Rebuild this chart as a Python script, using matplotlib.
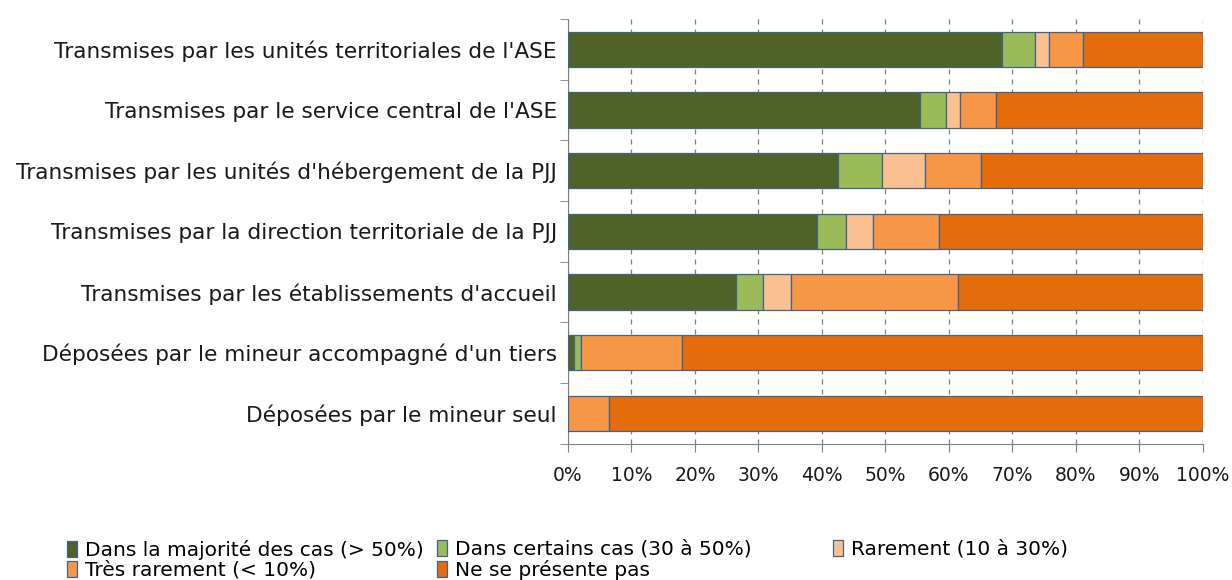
import numpy as np
import matplotlib.pyplot as plt
from matplotlib.patches import Patch

plt.rcParams['font.family'] = ['DejaVu Sans']

categories = [
    "Transmises par les unités territoriales de l'ASE",
    "Transmises par le service central de l'ASE",
    "Transmises par les unités d'hébergement de la PJJ",
    "Transmises par la direction territoriale de la PJJ",
    "Transmises par les établissements d'accueil",
    "Déposées par le mineur accompagné d'un tiers",
    "Déposées par le mineur seul",
]
series_names = [
    "Dans la majorité des cas (> 50%)",
    "Dans certains cas (30 à 50%)",
    "Rarement (10 à 30%)",
    "Très rarement (< 10%)",
    "Ne se présente pas",
]
majorite = [68.4, 55.4, 42.6, 39.2, 26.4, 1.0, 0.0]
certains = [5.2, 4.1, 6.9, 4.6, 4.3, 1.1, 0.0]
rarement = [2.1, 2.3, 6.8, 4.3, 4.4, 0.0, 0.0]
tres_rarement = [5.4, 5.6, 8.7, 10.3, 26.4, 15.9, 6.5]
ne_presente_pas = [18.9, 32.6, 35.0, 41.6, 38.5, 82.0, 93.5]
xticks = [0, 10, 20, 30, 40, 50, 60, 70, 80, 90, 100]

colors = ['#4F6228', '#9BBB59', '#FAC090', '#F79646', '#E46C0A']
series = [majorite, certains, rarement, tres_rarement, ne_presente_pas]

fig = plt.figure(figsize=(12.32, 5.8), dpi=100)
ax = fig.add_axes([0.4610, 0.2353, 0.5154, 0.7319])

y = np.arange(len(categories))
left = np.zeros(len(categories))
for vals, col in zip(series, colors):
    vals = np.array(vals)
    ax.barh(y, vals, left=left, height=0.58, color=col,
            edgecolor='#41628A', linewidth=0.9, zorder=3)
    left += vals

ax.set_xlim(0, 100)
ax.set_ylim(6.5, -0.5)
ax.set_xticks(xticks)
ax.set_xticklabels([str(t) + '%' for t in xticks], fontsize=13.5, color='#1a1a1a')
ax.set_yticks(y)
ax.set_yticklabels(categories, fontsize=15.6, color='#1a1a1a')
ax.set_yticks(np.arange(-0.5, 7, 1), minor=True)
ax.tick_params(axis='y', which='major', length=0, pad=8)
ax.tick_params(axis='y', which='minor', length=6, color='#808080')
ax.tick_params(axis='x', length=6, color='#808080', pad=10)
ax.grid(axis='x', color='#808080', linestyle=(0, (4, 4)), linewidth=0.9, zorder=0)
for s in ['top', 'right']:
    ax.spines[s].set_visible(False)
ax.spines['left'].set_color('#808080')
ax.spines['bottom'].set_color('#808080')

handles = [Patch(facecolor=c, edgecolor='#41628A', linewidth=0.9) for c in colors]
col_x = [0.0544, 0.3547, 0.6761]
col_items = [[0, 3], [1, 4], [2]]
for cx, items in zip(col_x, col_items):
    fig.legend([handles[i] for i in items], [series_names[i] for i in items],
               loc='upper left', bbox_to_anchor=(cx, 0.069), frameon=False,
               fontsize=14.5, handlelength=0.5, handleheight=0.85, handletextpad=0.4,
               labelspacing=0.03, borderpad=0, borderaxespad=0)

fig.savefig('out.png', dpi=100)
